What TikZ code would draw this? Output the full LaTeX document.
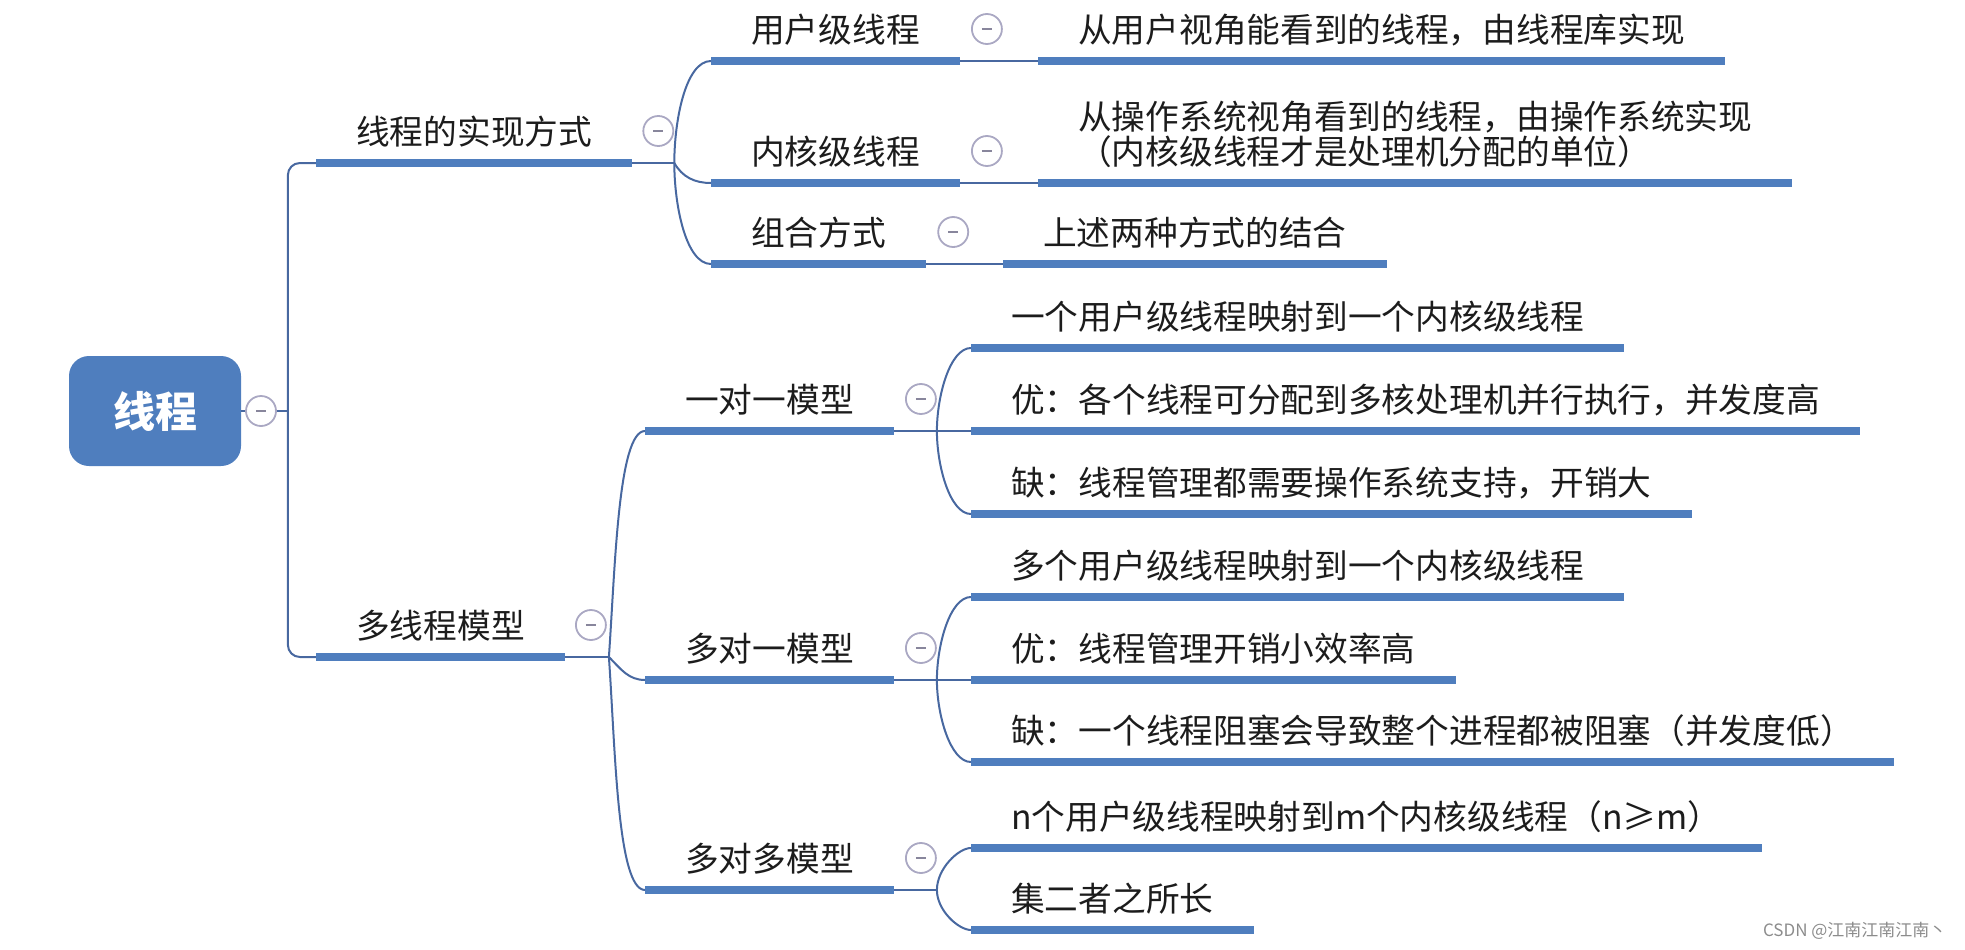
\documentclass[tikz,border=0pt]{standalone}
\usepackage{fontspec}
\setmainfont{Noto Sans CJK SC}
\usetikzlibrary{positioning}
\definecolor{barblue}{RGB}{79,126,190}
\definecolor{linkblue}{RGB}{72,104,160}
\definecolor{foldgray}{RGB}{170,168,195}
\definecolor{inkblack}{RGB}{28,28,28}
\begin{document}
\begin{tikzpicture}[x=1pt,y=-1pt,font=\fontsize{33.7}{35}\selectfont,text=inkblack,
  topic/.style={anchor=south west,inner xsep=40pt,inner ysep=12pt,text depth=6pt},
  bar/.style={line width=7.5pt,barblue},
  link/.style={line width=2pt,linkblue},
  rootbox/.style={rounded corners=20pt,fill=barblue,minimum width=172pt,minimum height=110pt,
    text=white,font=\fontsize{42}{44}\selectfont\bfseries},
  fold/.style={circle,draw=foldgray,line width=1.8pt,fill=white,minimum size=30pt,inner sep=0pt,
    path picture={\draw[foldgray!80!black,line width=1.8pt]
      ([xshift=-5pt]path picture bounding box.center)--([xshift=5pt]path picture bounding box.center);}}]
  \useasboundingbox (0,0) rectangle (1965,950);
  % root
  \node[rootbox] (root) at (155,411) {线程};
  \node[fold] (rootdot) at (261,411) {};
  \draw[link] (root.east) -- (rootdot.west);
  \coordinate (rootfork) at ([xshift=11pt]rootdot.east);
  % level 1
  \node[topic] (impl) at (316,163) {线程的实现方式};
  \node[topic] (multi) at (316,657) {多线程模型};
  \draw[link] (rootdot.east) -- (rootfork);
  \draw[link,rounded corners=12pt] (rootfork) |- (impl.south west);
  \draw[link,rounded corners=12pt] (rootfork) |- (multi.south west);
  \foreach \n in {impl,multi}{
    \draw[bar] (\n.south west) -- (\n.south east);
    \node[fold] at ([xshift=26pt,yshift=32pt]\n.south east) {};
  }
  % implementations
  \coordinate (implfork) at ([xshift=42pt]impl.south east);
  \draw[link] (impl.south east) -- (implfork);
  \node[topic] (user) at (711,61) {用户级线程};
  \node[topic] (kernel) at (711,183) {内核级线程};
  \node[topic] (combo) at (711,264) {组合方式};
  \node[topic] (userleaf) at (1038,61) {从用户视角能看到的线程，由线程库实现};
  \node[topic,align=left] (kernelleaf) at (1038,183) {从操作系统视角看到的线程，由操作系统实现\\（内核级线程才是处理机分配的单位）};
  \node[topic] (comboleaf) at (1003,264) {上述两种方式的结合};
  \draw[link] (implfork) to[out=90,in=180,in looseness=0.6] (user.south west);
  \draw[link] (implfork) to[out=-60,in=180] (kernel.south west);
  \draw[link] (implfork) to[out=-90,in=180,in looseness=0.6] (combo.south west);
  \draw[link] (user.south east) -- (userleaf.south west);
  \draw[link] (kernel.south east) -- (kernelleaf.south west);
  \draw[link] (combo.south east) -- (comboleaf.south west);
  % models
  \coordinate (multifork) at ([xshift=44pt]multi.south east);
  \draw[link] (multi.south east) -- (multifork);
  \node[topic] (one) at (645,431) {一对一模型};
  \node[topic] (manyone) at (645,680) {多对一模型};
  \node[topic] (manymany) at (645,890) {多对多模型};
  \draw[link] (multifork) to[out=86,in=180,in looseness=0.3] (one.south west);
  \draw[link] (multifork) to[out=-45,in=180] (manyone.south west);
  \draw[link] (multifork) to[out=-86,in=180,in looseness=0.3] (manymany.south west);
  \node[topic] (one1) at (971,348) {一个用户级线程映射到一个内核级线程};
  \node[topic] (one2) at (971,431) {优：各个线程可分配到多核处理机并行执行，并发度高};
  \node[topic] (one3) at (971,514) {缺：线程管理都需要操作系统支持，开销大};
  \node[topic] (manyone1) at (971,597) {多个用户级线程映射到一个内核级线程};
  \node[topic] (manyone2) at (971,680) {优：线程管理开销小效率高};
  \node[topic] (manyone3) at (971,762) {缺：一个线程阻塞会导致整个进程都被阻塞（并发度低）};
  \node[topic] (manymany1) at (971,848) {n个用户级线程映射到m个内核级线程（n≥m）};
  \node[topic] (manymany2) at (971,930) {集二者之所长};
  \foreach \p/\a/\b/\c in {one/one1/one2/one3,manyone/manyone1/manyone2/manyone3}{
    \coordinate (\p fork) at ([xshift=43pt]\p.south east);
    \draw[link] (\p.south east) -- (\b.south west);
    \draw[link] (\p fork) to[out=90,in=180,in looseness=0.6] (\a.south west);
    \draw[link] (\p fork) to[out=-90,in=180,in looseness=0.6] (\c.south west);
  }
  \coordinate (manymanyfork) at ([xshift=43pt]manymany.south east);
  \draw[link] (manymany.south east) -- (manymanyfork);
  \draw[link] (manymanyfork) to[out=90,in=180,in looseness=0.6] (manymany1.south west);
  \draw[link] (manymanyfork) to[out=-90,in=180,in looseness=0.6] (manymany2.south west);
  % underlines and fold marks
  \foreach \n in {user,kernel,combo,userleaf,kernelleaf,comboleaf,one,manyone,manymany,
      one1,one2,one3,manyone1,manyone2,manyone3,manymany1,manymany2}
    \draw[bar] (\n.south west) -- (\n.south east);
  \foreach \n in {user,kernel,combo,one,manyone,manymany}
    \node[fold] at ([xshift=27pt,yshift=32pt]\n.south east) {};
  \node[anchor=east,font=\fontsize{17}{20}\selectfont,text=black!45] (mark) at (1950,931) {CSDN @江南江南江南丶};
\end{tikzpicture}
\end{document}
